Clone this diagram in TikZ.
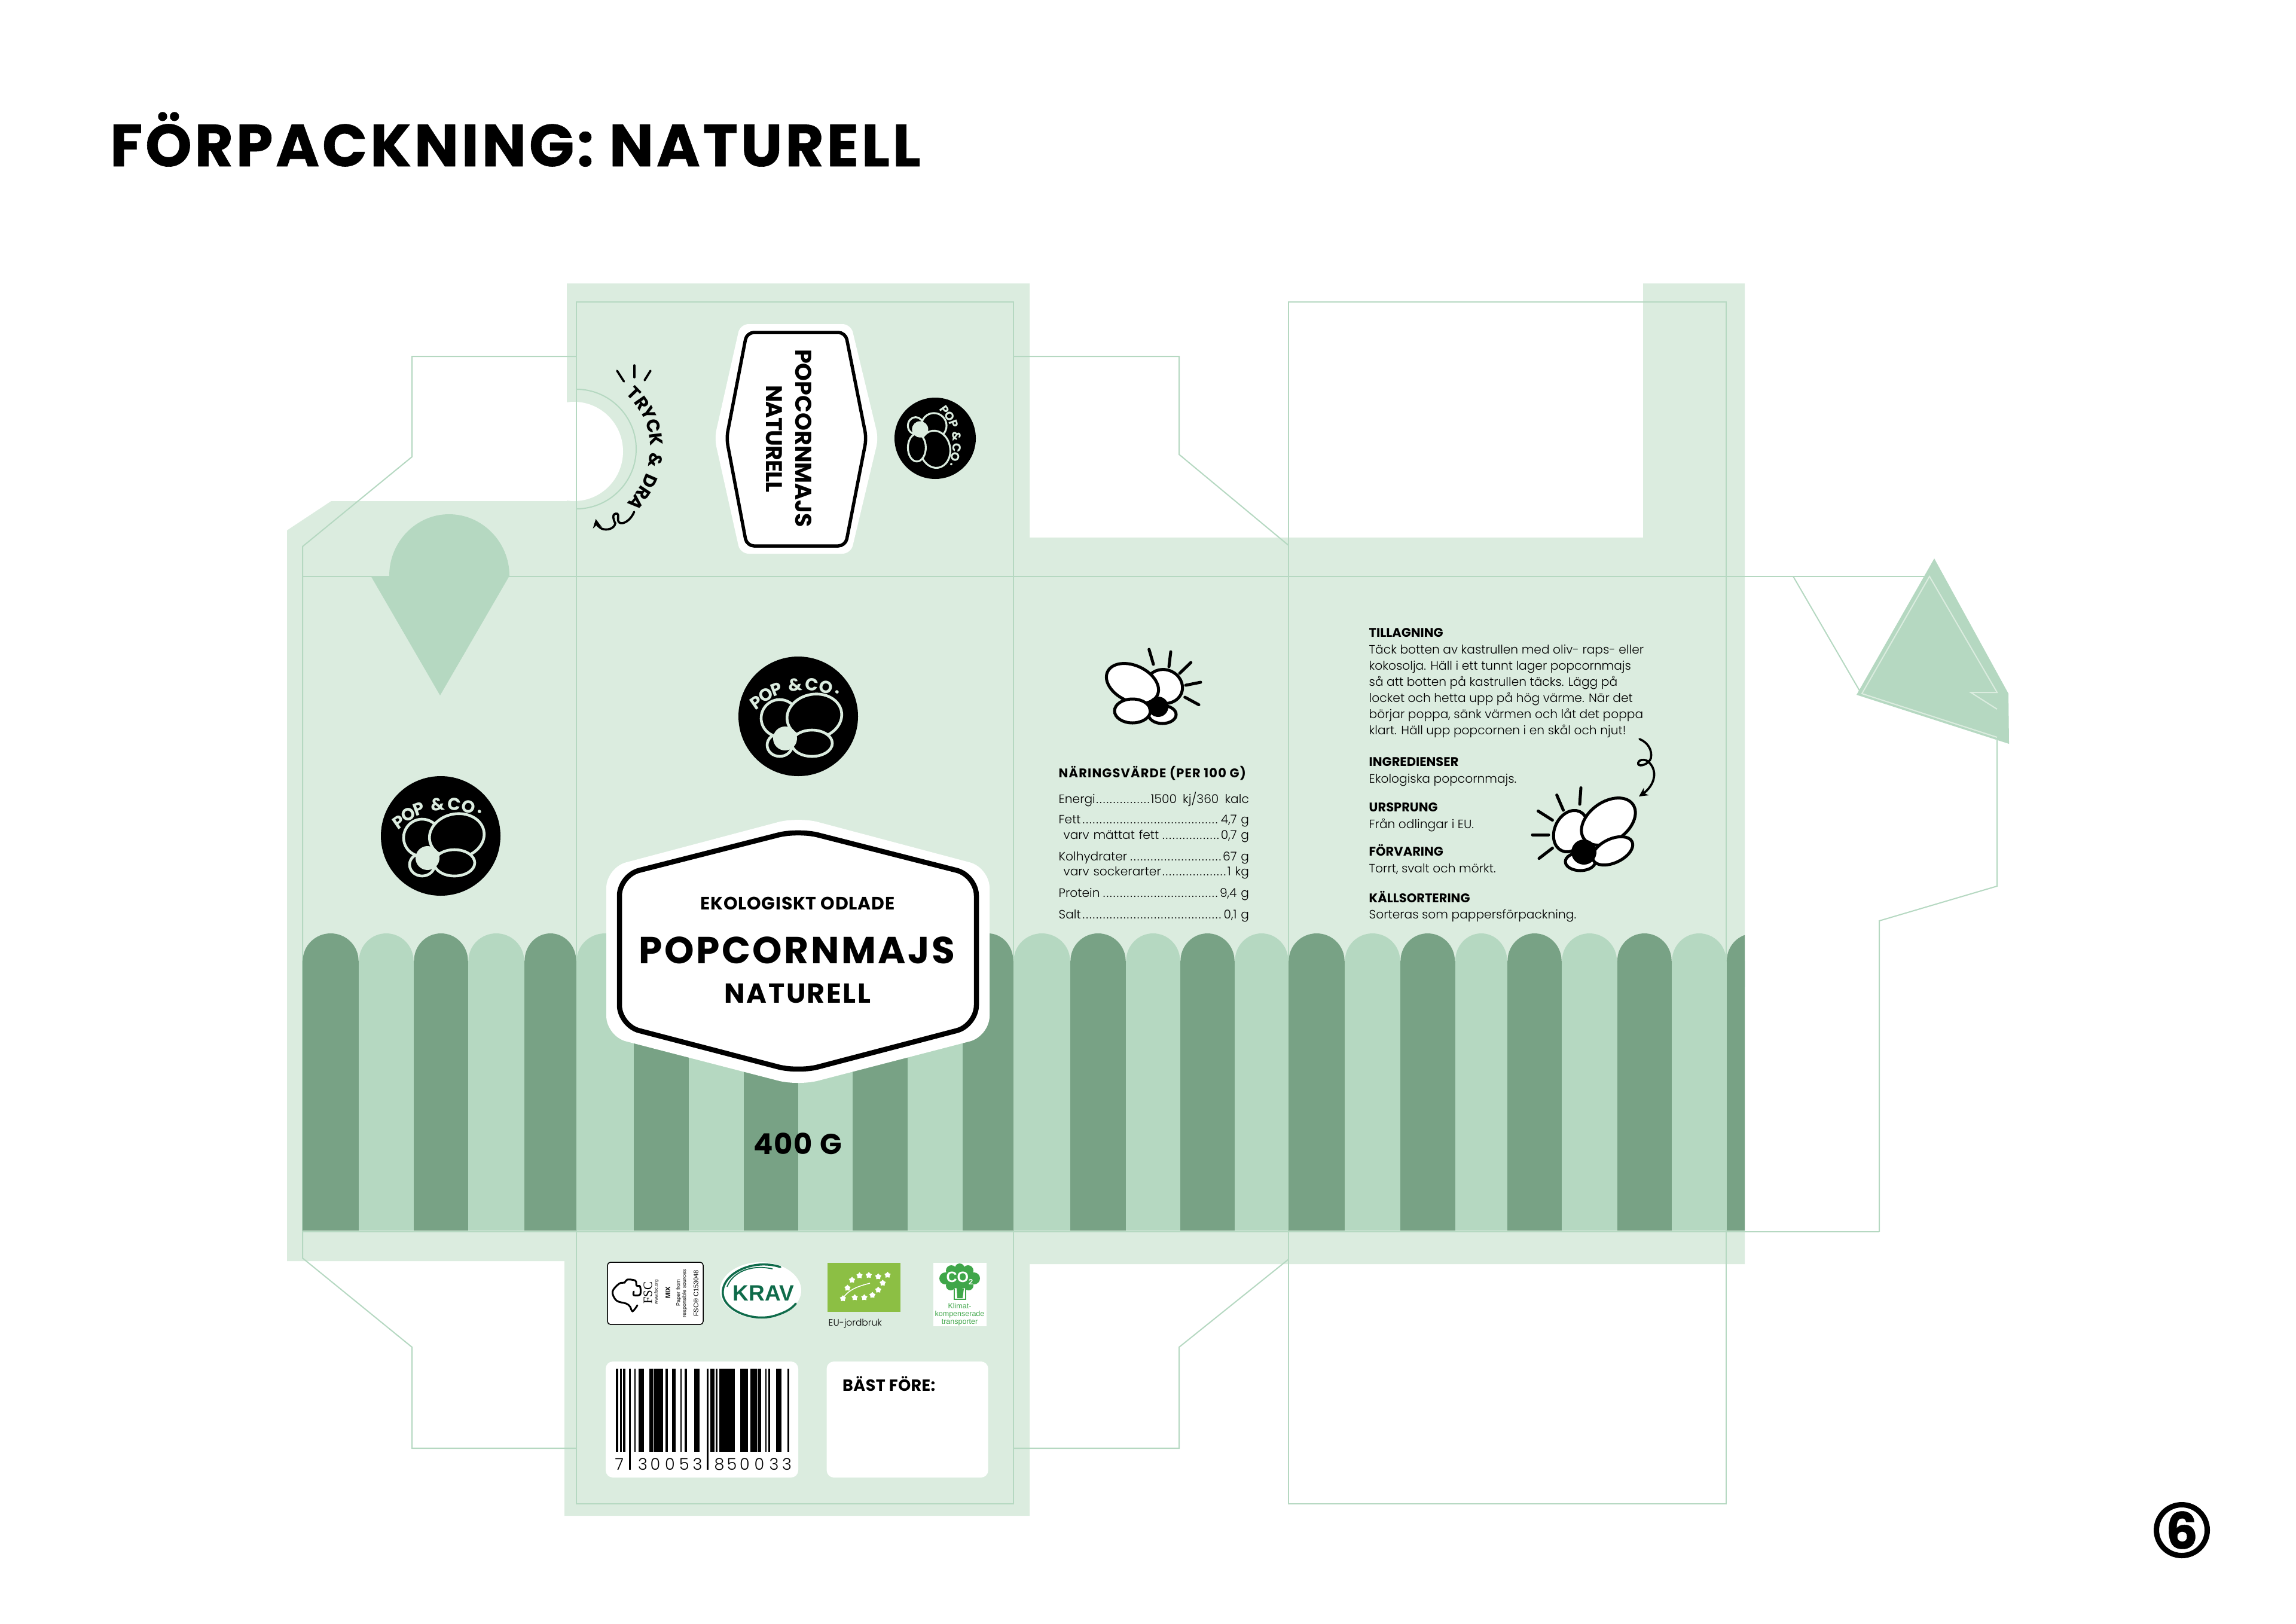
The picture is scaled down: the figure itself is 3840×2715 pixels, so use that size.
\documentclass[tikz,border=0pt]{standalone}
\usepackage{fontspec}
\usepackage{xfp}
\usetikzlibrary{shapes.geometric,arrows.meta}
\setmainfont{Poppins}[UprightFont=* Light,BoldFont=* Bold]
\newfontfamily\popfont{Poppins}
\newfontfamily\fscfont{Liberation Sans}
\newfontfamily\fscserif{Liberation Serif}

\definecolor{panel}{HTML}{DBECDF}
\definecolor{midgreen}{HTML}{B5D8C1}
\definecolor{darkgreen}{HTML}{78A285}
\definecolor{kravgreen}{HTML}{0F6B4A}
\definecolor{eugreen}{HTML}{8CBF44}
\definecolor{co2green}{HTML}{3FA649}

\newcommand{\pxsize}[1]{\fontsize{\fpeval{#1*0.28453}}{\fpeval{#1*0.34}}\selectfont}
\newcommand{\rowdots}{\leaders\hbox{.\kern0.1em}\hfill}
\def\px{0.28453pt}

\tikzset{
  foldline/.style={draw=midgreen,line width=2*\px},
  innerline/.style={draw=panel,line width=2*\px},
  kernel/.style={draw=black,fill=white,line width=5*\px},
  ray/.style={draw=black,line width=5*\px,line cap=round},
  squiggle/.style={draw=black,line width=3.6*\px,line cap=round,-{Stealth[length=4.2pt,width=4.2pt]}},
  label/.style={inner sep=0,anchor=base},
  leftlabel/.style={inner sep=0,anchor=base west},
  bodytext/.style={leftlabel,font=\pxsize{20.2}},
  headtext/.style={leftlabel,font=\pxsize{21}\bfseries},
  eustar/.style={star,star points=5,fill=white,inner sep=0,minimum size=11*\px},
}

% one arched stripe: left x, right x, colour
\newcommand{\archstripe}[3]{
  \fill[#3] ({(#1+#2)/2},1607) circle[x radius={(#2-#1)/2-0.4},y radius=46];
  \fill[#3] (#1,1607) rectangle (#2,2058);
}

% round mark with brand text: centre x, centre y, scale, rotation
\newcommand{\popmark}[4]{
  \begin{scope}[shift={(#1,#2)},rotate=#4,scale=#3,transform shape]
    \fill[black] (0,0) circle[radius=100];
    \begin{scope}[fill=black,draw=panel,line width=#3*4.6*\px]
      \filldraw (-31,48) circle[x radius=21,y radius=19];
      \filldraw[rotate around={-10:(-31,3)}] (-31,3) circle[x radius=31,y radius=31];
      \filldraw[rotate around={10:(27,0)}] (27,0) circle[x radius=46,y radius=37];
      \filldraw (23,45) circle[x radius=34,y radius=22];
    \end{scope}
    \fill[panel] (-22,37) circle[radius=20];
    \foreach \cx/\cy/\rot/\letter in {-70/-23/35/P,-54/-36/28/O,-36/-45/20/P,-5/-53/5/\&,23/-53/-8/C,46/-49/-18/O,65/-40/-32/.}
      \node[rotate=\rot,text=panel,inner sep=0,font=\popfont\pxsize{29}\bfseries] at (\cx,\cy) {\letter};
  \end{scope}
}

\begin{document}
\begin{tikzpicture}[x=0.01cm,y=-0.01cm]
\useasboundingbox (0,0) rectangle (3840,2715);
\fill[white] (0,0) rectangle (3840,2715);

\node[label,font=\pxsize{99}\bfseries\addfontfeature{LetterSpace=4.7,FakeBold=0.6}] (title) at (862,278) {FÖRPACKNING: NATURELL};

% printed area
\fill[panel] (948,474) -- (1722,474) -- (1722,899) -- (2748,899) -- (2748,474) -- (2918,474) -- (2918,2114)
  -- (1722,2114) -- (1722,2535) -- (944,2535) -- (944,2109) -- (480,2109) -- (480,887) -- (554,838) -- (948,838) -- cycle;
\fill[white] (960,755) circle[x radius=82,y radius=83];

% fold lines
\draw[foldline] (964,596) -- (689,596) -- (689,764) -- (506,914) -- (506,2104) -- (689,2253) -- (689,2422) -- (964,2422);
\draw[foldline] (964,505) rectangle (1695,2515);
\draw[foldline] (2155,505) rectangle (2887,2515);
\draw[foldline] (506,964) -- (3219,964);
\draw[foldline] (506,2060) -- (3143,2060);
\draw[foldline] (1695,596) -- (1972,596) -- (1972,760) -- (2155,912);
\draw[foldline] (2155,2106) -- (1972,2253) -- (1972,2422) -- (1695,2422);
\draw[foldline] (2999,964) -- (3110,1155);
\draw[foldline] (3340,1238) -- (3340,1482) -- (3143,1540) -- (3143,2060);
\draw[foldline] (964,651) .. controls (1019,651) and (1064,696) .. (1064,751) .. controls (1064,806) and (1019,851) .. (964,851);

% glue tabs
\fill[midgreen] (651,963) .. controls (651,906) and (696,860) .. (751,860) .. controls (806,860) and (852,906) .. (852,963) -- (736,1163) -- (620,963) -- cycle;
\fill[midgreen] (3235,934) -- (3359,1160) -- (3360,1244) -- (3105,1162) -- cycle;
\draw[innerline] (3340,1233) -- (3114,1160) -- (3227,964) -- (3340,1158) -- (3296,1158) -- (3340,1186);

% stripes
\begin{scope}
  \clip (506,1500) rectangle (2918,2058);
  \foreach \a/\b in {600/692,783/877,964/1060,1152/1243.5,1335/1426,1518/1610,1695/1790,1883/1974,2065/2155,2249/2342,2433.5/2521,2612/2704.5,2796/2887.5} {
    \archstripe{\a}{\b}{midgreen}
  }
  \foreach \a/\b in {506/600,692/783,877/964,1060/1152,1243.5/1335,1426/1518,1610/1695,1790/1883,1974/2065,2155/2249,2342/2433.5,2521/2612,2704.5/2796,2887.5/2979} {
    \archstripe{\a}{\b}{darkgreen}
  }
\end{scope}

% big label
\fill[white,rounded corners=34*\px] (1335,1366) -- (1655,1451) -- (1655,1733) -- (1335,1816) -- (1014,1733) -- (1014,1451) -- cycle;
\draw[black,line width=8.5*\px,rounded corners=34*\px] (1335,1388) -- (1633,1464) -- (1633,1715) -- (1335,1793) -- (1036,1715) -- (1036,1464) -- cycle;
\node[label,font=\pxsize{30}\bfseries\addfontfeature{LetterSpace=2.4}] (odlade) at (1334,1521) {EKOLOGISKT ODLADE};
\node[label,font=\pxsize{63}\bfseries\addfontfeature{LetterSpace=5.5}] (bigname) at (1333,1611) {POPCORNMAJS};
\node[label,font=\pxsize{46}\bfseries\addfontfeature{LetterSpace=5.4}] (bigsort) at (1334,1677.5) {NATURELL};
\node[label,font=\pxsize{48}\bfseries\addfontfeature{LetterSpace=4}] (weight) at (1334,1930) {400 G};

% top label
\fill[white,rounded corners=14*\px] (1195,733) -- (1238,542) -- (1423,542) -- (1469,733) -- (1423,926) -- (1238,926) -- cycle;
\draw[black,line width=5.5*\px,rounded corners=12*\px] (1215,733) -- (1249,556) -- (1414,556) -- (1449,733) -- (1414,913) -- (1249,913) -- cycle;
\node[label,rotate=-90,font=\pxsize{38}\bfseries] (topname) at (1330.5,733) {POPCORNMAJS};
\node[label,rotate=-90,font=\pxsize{38}\bfseries\addfontfeature{LetterSpace=-3}] (topsort) at (1281.7,734) {NATURELL};

% press and pull
\foreach \ang/\letter in {-44/T,-35/R,-26.5/Y,-16.5/C,-7/K,8/\&,23.5/D,33.5/R,42/A}
  \node[rotate=-90-\ang,inner sep=0,font=\pxsize{30}\bfseries] at ({964+134*cos(\ang)},{751+134*sin(\ang)}) {\letter};
\foreach \a/\b/\c/\d in {1060.7/611/1060.7/631,1032/620/1043.5/638,1088/620/1078/636}
  \draw[ray,line width=3.6*\px] (\a,\b) -- (\c,\d);
\draw[squiggle] (1060.7,856) .. controls (1055,870) and (1042,878) .. (1036,874) .. controls (1030,870) and (1038,858) .. (1030,859) .. controls (1023,860) and (1026,870) .. (1029,875) .. controls (1028,884) and (1015,888) .. (1006,884) .. controls (1001,881) and (998,877) .. (996.4,868);

% marks
\popmark{737}{1398}{1}{0}
\popmark{1335}{1198}{1}{0}
\popmark{1564}{733}{0.68}{-90}

% popcorn, nutrition side
\draw[kernel] (1944,1195) circle[x radius=23,y radius=15];
\draw[kernel,rotate around={-20:(1947,1148)}] (1947,1148) circle[x radius=31,y radius=28];
\draw[kernel,rotate around={-25:(1894,1143)}] (1894,1143) circle[x radius=46,y radius=30];
\draw[kernel] (1894,1189) circle[x radius=30,y radius=20];
\fill[black] (1937,1182) circle[radius=17];
\foreach \a/\b/\c/\d in {1921.7/1086/1929/1111,1958/1090/1955/1115,1991.7/1108/1973/1126,2008/1141/1983/1146,2005/1178.6/1981.7/1166}
  \draw[ray] (\a,\b) -- (\c,\d);

% popcorn, cooking side
\draw[kernel] (2643,1441) circle[x radius=25,y radius=15];
\draw[kernel,rotate around={65:(2627,1390)}] (2627,1390) circle[x radius=36,y radius=27];
\draw[kernel,rotate around={35:(2690,1374)}] (2690,1374) circle[x radius=50,y radius=33];
\draw[kernel,rotate around={25:(2697,1423)}] (2697,1423) circle[x radius=36,y radius=20];
\fill[black] (2649,1425) circle[radius=21];
\foreach \a/\b/\c/\d in {2644/1317.5/2642/1345,2603.6/1329.6/2614.6/1355,2572.5/1356.4/2596.4/1371.6,2563/1396/2590/1396,2574/1435.6/2596.4/1418.4}
  \draw[ray] (\a,\b) -- (\c,\d);
\draw[squiggle] (2742,1236) .. controls (2755,1241) and (2764,1254) .. (2761,1268) .. controls (2758,1278) and (2742,1283) .. (2740,1278) .. controls (2738,1270) and (2752,1268) .. (2758,1275) .. controls (2768,1285) and (2770,1300) .. (2760,1315) .. controls (2757,1320) and (2750,1326) .. (2741,1332);

% nutrition table
\node[leftlabel,font=\pxsize{21}\bfseries\addfontfeature{LetterSpace=5.5}] (nutrition) at (1770,1300) {NÄRINGSVÄRDE (PER 100 G)};
\foreach \x/\w/\yy/\txt in {1770/3.18cm/1343/{Energi\rowdots 1500\ \,kj/360\ \,kalc},1770/3.18cm/1377.5/{Fett\rowdots 4,7 g},1778/3.10cm/1403/{varv mättat fett\rowdots 0,7 g},1770/3.18cm/1439/{Kolhydrater\rowdots 67 g},1778/3.10cm/1464/{varv sockerarter\rowdots 1 kg},1770/3.18cm/1500/{Protein\rowdots 9,4 g},1770/3.18cm/1536/{Salt\rowdots 0,1 g}}
  \node[bodytext,text width=\w] at (\x,\yy) {\txt};

% cooking text
\foreach \yy/\txt in {1065.5/TILLAGNING,1281/INGREDIENSER,1357/URSPRUNG,1431/FÖRVARING,1509/KÄLLSORTERING}
  \node[headtext] at (2289,\yy) {\txt};
\foreach \yy/\txt in {1093/{Täck botten av kastrullen med oliv- raps- eller},1120/{kokosolja. Häll i ett tunnt lager popcornmajs},1147/{så att botten på kastrullen täcks. Lägg på},1174/{locket och hetta upp på hög värme. När det},1201/{börjar poppa, sänk värmen och låt det poppa},1228/{klart. Häll upp popcornen i en skål och njut!},1309/{Ekologiska popcornmajs.},1385/{Från odlingar i EU.},1459.4/{Torrt, svalt och mörkt.},1536/{Sorteras som pappersförpackning.}}
  \node[bodytext] at (2289,\yy) {\txt};

% FSC
\draw[black,fill=white,line width=1.5*\px,rounded corners=5*\px] (1016,2111) rectangle (1176,2215);
\draw[black,line width=3*\px,line cap=round] plot[smooth,tension=0.6] coordinates {(1066,2183) (1058,2193) (1053.6,2185) (1047,2180) (1031,2175) (1024.5,2160) (1035.7,2146.7) (1044.6,2145) (1049,2140) (1062.5,2141.7) (1064.7,2150) (1070.5,2151.7) (1070.5,2165) (1060,2166) (1060,2160)};
\node[rotate=90,inner sep=0,font=\fscserif\pxsize{21}] at (1083.5,2162) {FSC};
\node[rotate=90,inner sep=0,font=\fscfont\pxsize{7.5}] at (1098,2161) {www.fsc.org};
\node[rotate=90,inner sep=0,font=\fscfont\pxsize{11}\bfseries] at (1117,2162) {MIX};
\node[rotate=90,inner sep=0,font=\fscfont\pxsize{9}] at (1135,2162) {Paper from};
\node[rotate=90,inner sep=0,font=\fscfont\pxsize{9}] at (1145,2163) {responsible sources};
\node[rotate=90,inner sep=0,font=\fscfont\pxsize{11}] at (1164,2163) {FSC® C153048};

% KRAV
\fill[white] (1272,2158) circle[x radius=68,y radius=47];
\draw[kravgreen,line width=3.5*\px,line cap=round] (1305,2119) .. controls (1260,2104) and (1205,2130) .. (1209,2165) .. controls (1212,2192) and (1262,2213) .. (1300,2199) .. controls (1315,2194) and (1325,2188) .. (1331,2180);
\draw[kravgreen,line width=1.8*\px] (1292,2122) .. controls (1255,2114) and (1225,2128) .. (1216,2152);
\node[label,font=\fscfont\pxsize{37}\bfseries,text=kravgreen] (krav) at (1277,2175) {KRAV};

% EU leaf
\fill[eugreen] (1384,2112) rectangle (1506,2194);
\foreach \sx/\sy in {1437.5/2133.3,1453/2132.7,1468.8/2135,1484.4/2132.3,1476.3/2145.7,1468.8/2157.3,1459/2166,1445.5/2170,1429.5/2170,1409.8/2171.7,1417.4/2154,1425/2140.7}
  \node[eustar] at (\sx,\sy) {};
\draw[white,line width=1.5*\px] (1410,2171) .. controls (1420,2155) and (1440,2150) .. (1455,2146);
\node[leftlabel,font=\pxsize{15.5}] (eutext) at (1385,2217) {EU-jordbruk};

% climate mark
\fill[white] (1561,2112) rectangle (1650,2218);
\fill[co2green] (1605,2137) circle[x radius=26,y radius=18];
\foreach \sx/\sy/\r in {1581/2138/10,1629/2138/10,1591/2125/9,1605/2121/8,1619/2125/9,1590/2150/8,1620/2150/8}
  \fill[co2green] (\sx,\sy) circle[radius=\r];
\draw[co2green,line width=1.8*\px] (1596,2155) -- (1596,2173) -- (1615,2173) -- (1615,2155);
\fill[co2green] (1600,2155) -- (1612,2155) -- (1610,2171) -- (1601,2171) -- cycle;
\node[inner sep=0,text=white,font=\fscfont\pxsize{25}\bfseries] (cotwo) at (1605,2138) {CO\raisebox{-1.2pt}{\pxsize{13}2}};
\foreach \yy/\txt in {2188/Klimat-,2201/kompenserade,2214/transporter}
  \node[label,text=co2green,font=\fscfont\pxsize{12.5}] at (1605,\yy) {\txt};

% barcode
\fill[white,rounded corners=12*\px] (1013,2277) rectangle (1335,2471);
\foreach \a/\b in {1029.9/1033.5,1036.6/1039.7,1041.5/1046.4,1061.2/1063.4,1067.9/1077.2,1085.7/1091.5,1093.3/1109.4,1113.4/1117,1123.7/1129.5,1137.9/1140.2,1145.1/1148.7,1160.7/1170.1,1187.9/1195.1,1197.3/1200.4,1203.1/1228.6,1238/1250.9,1255.4/1265.6,1267/1272.8,1279.5/1282.1,1284.8/1287.5,1298.2/1307.1,1316.5/1319.6}
  \fill[black] (\a,2289) rectangle (\b,2428);
\fill[black] (1051.8,2289) rectangle (1055.4,2458);
\fill[black] (1182.1,2289) rectangle (1184.8,2458);
\foreach \dx/\digit in {1035.7/7,1075/3,1096/0,1120.5/0,1144.2/5,1166.5/3,1203.1/8,1224/5,1245.5/0,1270/0,1294.6/3,1316/3}
  \node[label,font=\pxsize{27}] at (\dx,2458) {\digit};

% best before
\fill[white,rounded corners=12*\px] (1382.6,2277) rectangle (1652.7,2471);
\node[leftlabel,font=\pxsize{27}\bfseries\addfontfeature{LetterSpace=1.5}] (bestbefore) at (1408.5,2326) {BÄST FÖRE:};

% page number
\draw[black,line width=9*\px] (3649,2559) circle[radius=42.5];
\node[inner sep=0,font=\pxsize{84}\bfseries\addfontfeature{FakeBold=0.5}] (pagenum) at (3649,2559) {6};
\end{tikzpicture}
\end{document}
